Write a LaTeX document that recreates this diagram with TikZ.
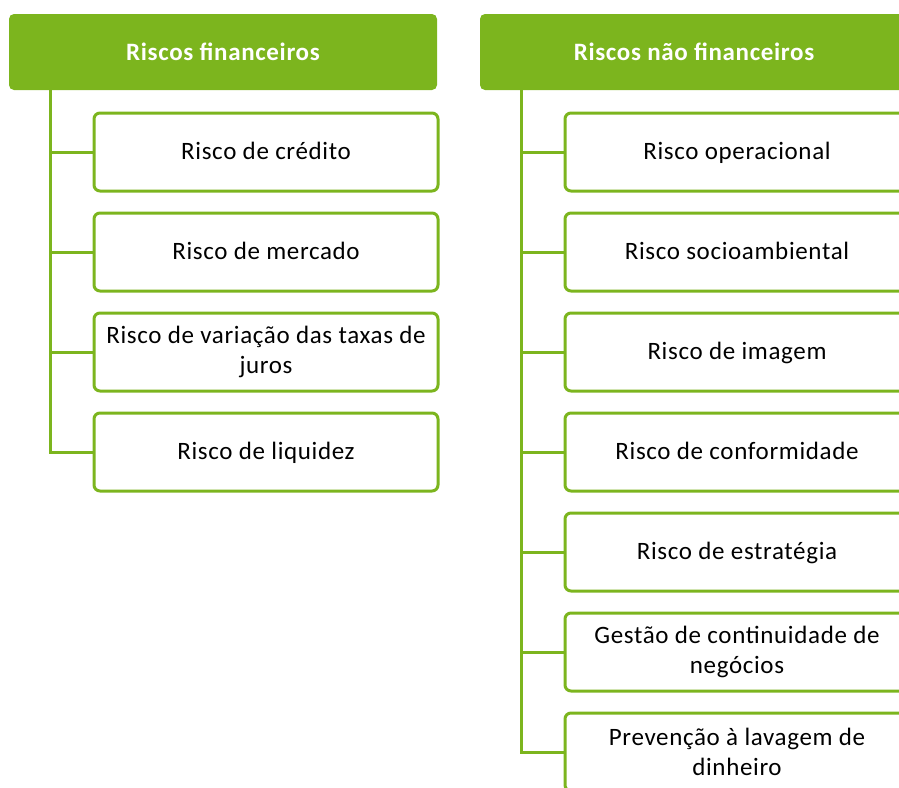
\documentclass[tikz,border=0pt]{standalone}
\usepackage{fontspec}
\setmainfont{Carlito}[LetterSpace=2.6]
\definecolor{rgreen}{RGB}{124,181,30}
\begin{document}
\begin{tikzpicture}[x=1pt,y=-1pt,
  hdr/.style={fill=rgreen, draw=none, rounded corners=5pt, minimum width=428pt, minimum height=76pt,
    text=white, font=\fontsize{25}{30}\selectfont\bfseries, inner sep=0pt},
  item/.style={fill=white, draw=rgreen, line width=3pt, rounded corners=6pt, minimum width=344pt,
    minimum height=78pt, font=\fontsize{25}{30}\selectfont, align=center, inner sep=0pt, text=black},
  oneline/.style={item, text height=18pt, text depth=3.4pt},
  link/.style={draw=rgreen, line width=3pt}]
\useasboundingbox (0,0) rectangle (899,787);
\clip (0,0) rectangle (899,787);
% left column
\node[hdr] (hL) at (223,52) {Riscos financeiros};
\coordinate (tL) at (50,90);
\node[oneline] (l1) at (266,152) {Risco de crédito};
\node[oneline] (l2) at (266,252) {Risco de mercado};
\node[item] (l3) at (266,352) {Risco de variação das taxas de\\juros};
\node[oneline] (l4) at (266,452) {Risco de liquidez};
\draw[link] (tL) |- (l4.west);
\foreach \n in {l1,l2,l3} \draw[link] (tL |- \n.west) -- (\n.west);
% right column
\node[hdr] (hR) at (694,52) {Riscos não financeiros};
\coordinate (tR) at (521,90);
\node[oneline] (r1) at (737,152) {Risco operacional};
\node[oneline] (r2) at (737,252) {Risco socioambiental};
\node[oneline] (r3) at (737,352) {Risco de imagem};
\node[oneline] (r4) at (737,452) {Risco de conformidade};
\node[oneline] (r5) at (737,552) {Risco de estratégia};
\node[item] (r6) at (737,652) {Gestão de continuidade de\\negócios};
\node[item] (r7) at (737,752) {Prevenção à lavagem de\\dinheiro};
\draw[link] (tR) |- (r7.west);
\foreach \n in {r1,r2,r3,r4,r5,r6} \draw[link] (tR |- \n.west) -- (\n.west);
\end{tikzpicture}
\end{document}
